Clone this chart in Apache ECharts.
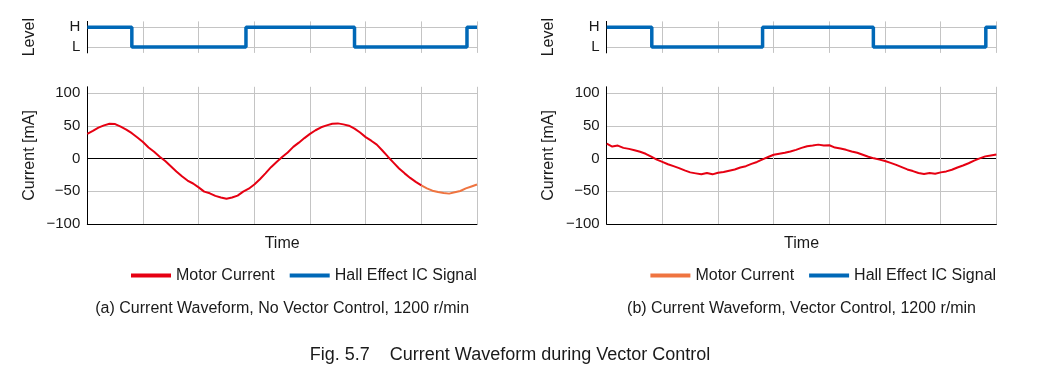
<!DOCTYPE html>
<html>
<head>
<meta charset="utf-8">
<script src="https://cdn.jsdelivr.net/npm/echarts@6/dist/echarts.min.js"></script>
<style>
html,body{margin:0;padding:0;background:#fff;}
#c{width:1042px;height:390px;}
</style>
</head>
<body>
<div id="c"></div>
<script>
// ---- data ----
const sampleStep = 0.1; // time units between samples (7 grid divisions)
const leftCurrent = [
  38, 42.5, 47.5, 51, 53.5, 53, 49, 44.5, 39, 32.5,
  25.5, 17, 10.5, 3, -3.5, -11.5, -19.5, -27, -33.5, -38,
  -44, -50.5, -53, -57, -59.5, -61.5, -59.5, -56.5, -50.5, -46,
  -39.5, -31.5, -22.5, -13, -5, 2.5, 9.5, 18, 24.5, 31.5,
  38, 43.5, 48, 51, 53.5, 54, 52.5, 50.5, 46, 40,
  33, 27.5, 21.5, 12.5, 3, -6, -15, -22.5, -29.5, -35.5,
  -41, -45.5, -49, -51, -52.5, -53.5, -51.5, -49.5, -45.5, -42.5,
  -39.5
];
const leftTailStart = 6.0; // time where the left trace changes colour
const rightCurrent = [
  23, 18.5, 20, 16.5, 15, 13, 10.5, 7.5, 3, -1.5,
  -5, -8.5, -11.5, -14.5, -18, -21, -22.5, -24, -22, -24,
  -21.5, -20.5, -18.5, -16.5, -13.5, -11.5, -8, -5, -1, 2.5,
  6, 7.5, 9, 11, 13.5, 16.5, 19, 20, 21.5, 20,
  20.5, 17, 15.5, 13.5, 11, 9, 6, 3, 0.5, -1.5,
  -3.5, -6.5, -9.5, -13, -16.5, -19, -22, -23.5, -22, -23,
  -21, -19.5, -17, -13.5, -10.5, -7, -3, 0.5, 3.5, 5,
  6.5
];
const leftHallTimes = [0, 0.8, 2.85, 4.8, 6.82, 7];
const leftHallLevels = [1, 0, 1, 0, 1, 1];
const rightHallTimes = [0, 0.81, 2.8, 4.79, 6.81, 7];
const rightHallLevels = [1, 0, 1, 0, 1, 1];
const levelTickLabels = {0: 'L', 1: 'H'};
const seriesNames = ['Motor Current', 'Hall Effect IC Signal'];
const captions = ['(a) Current Waveform, No Vector Control, 1200 r/min', '(b) Current Waveform, Vector Control, 1200 r/min'];
const figTitle = 'Fig. 5.7    Current Waveform during Vector Control';
const yAxisNames = ['Level', 'Current [mA]'];
const xAxisName = 'Time';

// ---- styles ----
const FONT = "'Liberation Sans', Arial, sans-serif";
const RED = '#e60012', ORANGE = '#ef7440', BLUE = '#0068b7', GRID = '#c4c4c4', TXT = '#1a1a1a';

const toPairs = arr => arr.map((v, i) => [+(i * sampleStep).toFixed(2), v]);
const hallPairs = (t, l) => t.map((x, i) => [x, l[i]]);
const leftPairs = toPairs(leftCurrent);
const leftMain = leftPairs.filter(p => p[0] <= leftTailStart + 1e-9);
const leftTail = leftPairs.filter(p => p[0] >= leftTailStart - 1e-9);

const chartLefts = [87.3, 606.7];
const plotW = 389.7;

const grids = [], xAxes = [], yAxes = [];
const levelLineColors = [];
for (let i = 0; i < 17; i++) levelLineColors.push(i === 3 || i === 13 ? GRID : 'rgba(0,0,0,0)');
const curLineColors = [];
for (let i = 0; i < 22; i++) {
  if (i === 10) curLineColors.push('#000');
  else if (i % 5 === 0) curLineColors.push(GRID);
  else curLineColors.push('rgba(0,0,0,0)');
}

chartLefts.forEach((L, k) => {
  grids.push({left: L, width: plotW, top: 21.4, height: 31.5});
  grids.push({left: L, width: plotW, top: 86.8, height: 137.2});
  const gL = 2 * k, gC = 2 * k + 1;
  xAxes.push({
    gridIndex: gL, type: 'value', min: 0, max: 7, interval: 1,
    axisLine: {show: false}, axisTick: {show: false}, axisLabel: {show: false},
    splitLine: {show: true, lineStyle: {color: GRID, width: 1}}
  });
  xAxes.push({
    gridIndex: gC, type: 'value', min: 0, max: 7, interval: 1,
    axisLine: {show: true, onZero: false, lineStyle: {color: '#000', width: 1}},
    axisTick: {show: false}, axisLabel: {show: false},
    splitLine: {show: true, lineStyle: {color: GRID, width: 1}},
    name: xAxisName, nameLocation: 'middle', nameGap: 12,
    nameTextStyle: {fontFamily: FONT, fontSize: 16, color: TXT}
  });
  yAxes.push({
    gridIndex: gL, type: 'value', min: -0.3, max: 1.3, interval: 0.1,
    axisLine: {show: true, lineStyle: {color: '#000', width: 1}},
    axisTick: {show: false},
    axisLabel: {
      fontFamily: FONT, fontSize: 15, color: TXT, margin: 7,
      formatter: v => { const r = Math.round(v * 10) / 10; return levelTickLabels[r] !== undefined && Math.abs(v - r) < 1e-6 ? levelTickLabels[r] : ''; }
    },
    splitLine: {show: true, lineStyle: {color: levelLineColors, width: 1}},
    name: yAxisNames[0], nameLocation: 'middle', nameGap: 50, nameRotate: 90,
    nameTextStyle: {fontFamily: FONT, fontSize: 16, color: TXT}
  });
  yAxes.push({
    gridIndex: gC, type: 'value', min: -100, max: 110, interval: 10,
    axisLine: {show: true, lineStyle: {color: '#000', width: 1}},
    axisTick: {show: false},
    axisLabel: {
      fontFamily: FONT, fontSize: 15, color: TXT, margin: 7,
      formatter: v => { const r = Math.round(v); if (r % 50 !== 0) return ''; return r < 0 ? '\u2212' + Math.abs(r) : String(r); }
    },
    splitLine: {show: true, lineStyle: {color: curLineColors, width: 1}},
    name: yAxisNames[1], nameLocation: 'middle', nameGap: 50, nameRotate: 90,
    nameTextStyle: {fontFamily: FONT, fontSize: 16, color: TXT}
  });
});

const lineBase = {type: 'line', showSymbol: false, symbol: 'none', animation: false, silent: true};
const series = [
  Object.assign({}, lineBase, {name: seriesNames[1], xAxisIndex: 0, yAxisIndex: 0, step: 'end',
    data: hallPairs(leftHallTimes, leftHallLevels), lineStyle: {color: BLUE, width: 3.5}, itemStyle: {color: BLUE}}),
  Object.assign({}, lineBase, {name: seriesNames[0], xAxisIndex: 1, yAxisIndex: 1,
    data: leftMain, lineStyle: {color: RED, width: 2}, itemStyle: {color: RED}}),
  Object.assign({}, lineBase, {name: seriesNames[0] + ' (tail)', xAxisIndex: 1, yAxisIndex: 1,
    data: leftTail, lineStyle: {color: ORANGE, width: 2}, itemStyle: {color: ORANGE}}),
  Object.assign({}, lineBase, {name: seriesNames[1], xAxisIndex: 2, yAxisIndex: 2, step: 'end',
    data: hallPairs(rightHallTimes, rightHallLevels), lineStyle: {color: BLUE, width: 3.5}, itemStyle: {color: BLUE}}),
  Object.assign({}, lineBase, {name: seriesNames[0], xAxisIndex: 3, yAxisIndex: 3,
    data: toPairs(rightCurrent), lineStyle: {color: RED, width: 2}, itemStyle: {color: RED}})
];

const legendBase = {
  orient: 'horizontal', top: 266, padding: 0, icon: 'rect', itemWidth: 40, itemHeight: 4, itemGap: 15,
  selectedMode: false,
  textStyle: {fontFamily: FONT, fontSize: 16, color: TXT, lineHeight: 19}
};
const legends = [
  Object.assign({}, legendBase, {left: 131, data: [
    {name: seriesNames[0], itemStyle: {color: RED}},
    {name: seriesNames[1], itemStyle: {color: BLUE}}
  ]}),
  Object.assign({}, legendBase, {left: 650.4, data: [
    {name: seriesNames[0], itemStyle: {color: ORANGE}},
    {name: seriesNames[1], itemStyle: {color: BLUE}}
  ]})
];

const textStyleG = {fontFamily: FONT, fontSize: 16, fill: TXT, textAlign: 'center', textVerticalAlign: 'middle'};
const graphic = [
  {type: 'text', x: chartLefts[0] + plotW / 2, y: 308.7, style: Object.assign({text: captions[0]}, textStyleG)},
  {type: 'text', x: chartLefts[1] + plotW / 2, y: 308.7, style: Object.assign({text: captions[1]}, textStyleG)},
  {type: 'text', x: 510, y: 355.5, style: Object.assign({text: figTitle}, textStyleG, {fontSize: 18})}
];

const chart = echarts.init(document.getElementById('c'), null, {renderer: 'canvas'});
chart.setOption({
  animation: false,
  backgroundColor: '#fff',
  grid: grids, xAxis: xAxes, yAxis: yAxes,
  legend: legends, series: series, graphic: graphic
});
</script>
</body>
</html>
